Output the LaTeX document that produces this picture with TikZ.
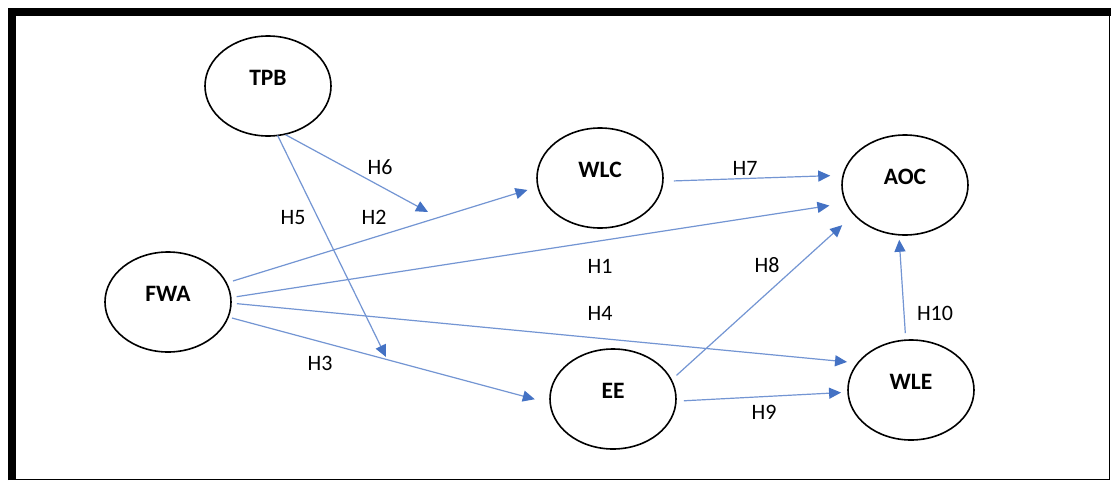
\documentclass[tikz,border=0pt]{standalone}
\usepackage{fontspec}
\setmainfont{Carlito}
\usetikzlibrary{shapes.geometric,arrows.meta}

\definecolor{arrowblue}{HTML}{4472C4}
\tikzset{
  latent/.style={ellipse, draw, line width=1.6pt, minimum width=126pt, minimum height=100pt,
    inner sep=0pt, outer sep=0pt, font=\fontsize{23.5}{23.5}\selectfont\bfseries,
    text height=16pt, text depth=18pt},
  hyp/.style={draw=arrowblue!75, line width=1.2pt,
    -{Triangle[length=12pt,width=11pt,color=arrowblue,fill=arrowblue]}},
  hlabel/.style={font=\fontsize{22}{22}\selectfont, inner sep=1pt}
}

\begin{document}
\begin{tikzpicture}[x=1pt,y=-1pt]
  \useasboundingbox (0,0) rectangle (1111,482);
  %% Frame round the model
  \fill[white] (0,0) rectangle (1111,482);
  \draw[line width=1.5pt] (8,479.5) -- (1109.5,479.5) -- (1109.5,12);
  \draw[line width=8pt] (11.5,480) -- (11.5,12) -- (1111,12);

  %% Constructs
  \node[latent] (TPB) at (268,86)  {TPB};
  \node[latent] (FWA) at (168,302) {FWA};
  \node[latent] (WLC) at (600,178) {WLC};
  \node[latent] (AOC) at (905,185) {AOC};
  \node[latent] (EE)  at (613,399) {EE};
  \node[latent] (WLE) at (911,390) {WLE};

  %% Hypothesised paths
  \coordinate (H6tip) at (428,212);
  \coordinate (H5tip) at (386,357);
  \foreach \a/\b/\s/\e in {FWA.18/WLC.188/7/11, FWA.4/AOC.197/6/17, FWA.359/WLE.153/6/11,
      FWA.346/EE.184/4/16, WLC.357/AOC.171/11/13, EE.18/AOC.210/7/16, EE.358/WLE.182/8/7,
      WLE.96/AOC.263/7/5, TPB.289/H6tip/1/0, TPB.281/H5tip/0/0}
  {
    \draw[hyp, shorten <=\s pt, shorten >=\e pt] (\a) -- (\b);
  }

  %% Hypothesis labels
  \foreach \n/\x/\y in {1/600/266, 2/374/217, 3/320/363, 4/600/313, 5/293/218,
      6/380/167, 7/745/168, 8/767/265, 9/764/412, 10/935/313}
  {
    \node[hlabel] (H\n) at (\x,\y) {H\n};
  }
\end{tikzpicture}
\end{document}
